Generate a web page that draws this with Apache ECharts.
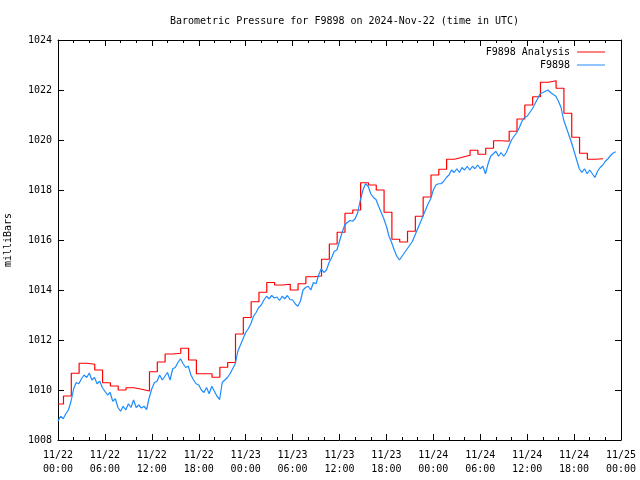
<!DOCTYPE html>
<html>
<head>
<meta charset="utf-8">
<script src="https://cdn.jsdelivr.net/npm/echarts@6/dist/echarts.min.js"></script>
<style>html,body{margin:0;padding:0;background:#fff}#c{width:640px;height:480px}</style>
</head>
<body>
<div id="c"></div>
<script>
// ---- data ----
var titleText = 'Barometric Pressure for F9898 on 2024-Nov-22 (time in UTC)';
var yAxisName = 'milliBars';
var seriesNames = ['F9898 Analysis', 'F9898'];
var xTickLabels = ['11/22\n00:00','11/22\n06:00','11/22\n12:00','11/22\n18:00',
  '11/23\n00:00','11/23\n06:00','11/23\n12:00','11/23\n18:00',
  '11/24\n00:00','11/24\n06:00','11/24\n12:00','11/24\n18:00','11/25\n00:00'];
// hours since 11/22 00:00 where each analysis step begins (last entry = end of last step)
var analysisTimes = [0,0.7,1.7,2.7,3.7,4.7,5.7,6.7,7.7,8.7,9.7,10.7,11.7,12.7,13.7,14.7,15.7,16.7,17.7,18.7,19.7,
  20.7,21.7,22.7,23.7,24.7,25.7,26.7,27.7,28.7,29.7,30.7,31.7,32.7,33.7,34.7,35.7,36.7,37.7,38.7,39.7,
  40.7,41.7,42.7,43.7,44.7,45.7,46.7,47.7,48.7,49.7,50.7,51.7,52.7,53.7,54.7,55.7,56.7,57.7,58.7,59.7,
  60.7,61.7,62.7,63.7,64.7,65.7,66.7,67.7,68.7,69.7];
var analysisValues = [1009.44,1009.76,1010.67,1011.07,1011.03,1010.8,1010.29,1010.16,1010.0,1010.09,1010.03,
  1009.96,1010.73,1011.12,1011.44,1011.47,1011.67,1011.2,1010.65,1010.65,1010.51,
  1010.91,1011.1,1012.24,1012.9,1013.53,1013.91,1014.3,1014.2,1014.23,1014.0,
  1014.25,1014.53,1014.56,1015.23,1015.84,1016.31,1017.07,1017.2,1018.29,1018.2,
  1018.0,1017.11,1016.03,1015.92,1016.35,1016.95,1017.72,1018.6,1018.83,1019.23,
  1019.31,1019.39,1019.59,1019.43,1019.67,1019.97,1019.95,1020.35,1020.84,1021.4,
  1021.73,1022.31,1022.37,1022.07,1021.07,1020.11,1019.47,1019.23,1019.25,1019.25];
// station observations, one every 20 minutes starting 11/22 00:00
var obsStartHour = 0;
var obsStepMinutes = 20;
var obsValues = [
  1008.75,1008.95,1008.85, 1009.05,1009.2,1009.55, 1010.05,1010.3,1010.25, 1010.45,1010.6,1010.5,
  1010.68,1010.4,1010.5, 1010.25,1010.35,1010.1, 1009.95,1009.8,1009.9, 1009.55,1009.65,1009.3,
  1009.15,1009.35,1009.2, 1009.45,1009.3,1009.6, 1009.3,1009.4,1009.28, 1009.35,1009.22,1009.7,
  1010.05,1010.3,1010.35, 1010.6,1010.4,1010.55, 1010.7,1010.4,1010.85, 1010.9,1011.1,1011.25,
  1011.05,1010.9,1010.95, 1010.6,1010.4,1010.25, 1010.2,1010.0,1009.9, 1010.1,1009.85,1010.15,
  1009.95,1009.75,1009.62, 1010.3,1010.4,1010.5, 1010.65,1010.85,1011.05, 1011.55,1011.8,1012.05,
  1012.3,1012.45,1012.65, 1012.95,1013.1,1013.3, 1013.4,1013.6,1013.75, 1013.65,1013.78,1013.68,
  1013.72,1013.58,1013.75, 1013.65,1013.78,1013.62, 1013.6,1013.45,1013.35, 1013.55,1014.0,1014.1,
  1014.15,1014.0,1014.3, 1014.25,1014.6,1014.85, 1014.7,1014.8,1015.1, 1015.3,1015.55,1015.6,
  1015.95,1016.3,1016.6, 1016.7,1016.78,1016.75, 1016.85,1017.1,1017.6, 1018.0,1018.25,1018.15,
  1017.85,1017.7,1017.62, 1017.35,1017.1,1016.85, 1016.55,1016.15,1015.9, 1015.6,1015.35,1015.2,
  1015.35,1015.5,1015.65, 1015.8,1015.95,1016.2, 1016.45,1016.7,1016.95, 1017.2,1017.45,1017.65,
  1018.0,1018.2,1018.25, 1018.25,1018.35,1018.5, 1018.6,1018.8,1018.7, 1018.85,1018.7,1018.9,
  1018.8,1018.95,1018.8, 1018.95,1018.85,1019.0, 1018.85,1018.95,1018.65, 1019.05,1019.35,1019.45,
  1019.55,1019.35,1019.5, 1019.35,1019.5,1019.75, 1020.0,1020.15,1020.3, 1020.5,1020.75,1020.9,
  1020.95,1021.1,1021.25, 1021.45,1021.65,1021.85, 1021.9,1021.95,1022.0, 1021.9,1021.82,1021.75,
  1021.55,1021.3,1020.8, 1020.5,1020.2,1019.9, 1019.55,1019.2,1018.85, 1018.7,1018.85,1018.65,
  1018.8,1018.65,1018.5, 1018.75,1018.9,1019.0, 1019.15,1019.25,1019.38, 1019.48,1019.53];

// ---- chart ----
var FONT = 'DejaVu Sans Mono';
var analysisData = analysisTimes.map(function (t, i) { return [t, analysisValues[i]]; });
var obsData = obsValues.map(function (v, i) { return [obsStartHour + i * obsStepMinutes / 60, v]; });

function xAxisCfg(pos, labels) {
  return {
    type: 'value', position: pos, min: 0, max: 72, interval: 6,
    axisLine: { show: true, onZero: false, lineStyle: { color: '#000', width: 1 } },
    axisTick: { show: true, inside: true, length: 6, lineStyle: { color: '#000' } },
    minorTick: { show: true, splitNumber: 3, length: 3, lineStyle: { color: '#000' } },
    splitLine: { show: false },
    axisLabel: labels ? {
      show: true, color: '#000', fontFamily: FONT, fontSize: 10, lineHeight: 14, margin: 8,
      formatter: function (v) { return xTickLabels[Math.round(v / 6)]; }
    } : { show: false }
  };
}
function yAxisCfg(pos, labels) {
  return {
    type: 'value', position: pos, min: 1008, max: 1024, interval: 2,
    name: labels ? yAxisName : '', nameLocation: 'middle', nameGap: 45, nameRotate: 90,
    nameTextStyle: { color: '#000', fontFamily: FONT, fontSize: 10 },
    axisLine: { show: true, onZero: false, lineStyle: { color: '#000', width: 1 } },
    axisTick: { show: true, inside: true, length: 6, lineStyle: { color: '#000' } },
    splitLine: { show: false },
    axisLabel: labels ? {
      show: true, color: '#000', fontFamily: FONT, fontSize: 10, margin: 6,
      formatter: function (v) { return String(v); }
    } : { show: false }
  };
}

var chart = echarts.init(document.getElementById('c'), null, { renderer: 'canvas' });
chart.setOption({
  animation: false,
  backgroundColor: '#fff',
  title: {
    text: titleText, left: 339.5, textAlign: 'center', top: 11,
    textStyle: { color: '#000', fontFamily: FONT, fontSize: 10, fontWeight: 'normal' }
  },
  legend: {
    orient: 'vertical', right: 30, top: 42, align: 'right', itemGap: 3,
    itemWidth: 28, itemHeight: 11,
    textStyle: { color: '#000', fontFamily: FONT, fontSize: 10, padding: [0, 2, 0, 0] },
    data: [
      { name: seriesNames[0], icon: 'path://M0,5 L28,5 L28,6 L0,6 Z' },
      { name: seriesNames[1], icon: 'path://M0,5 L28,5 L28,6 L0,6 Z' }
    ]
  },
  grid: { left: 58, right: 19, top: 40, bottom: 40, containLabel: false, outerBoundsMode: 'none' },
  xAxis: [xAxisCfg('bottom', true), xAxisCfg('top', false)],
  yAxis: [yAxisCfg('left', true), yAxisCfg('right', false)],
  series: [
    {
      name: seriesNames[0], type: 'line', step: 'end', data: analysisData,
      showSymbol: false, symbol: 'none', color: '#ff0000',
      lineStyle: { color: '#ff0000', width: 1.2 }, z: 2
    },
    {
      name: seriesNames[1], type: 'line', data: obsData,
      showSymbol: false, symbol: 'none', color: '#1e8cff',
      lineStyle: { color: '#1e8cff', width: 1.2 }, z: 3
    }
  ]
});
</script>
</body>
</html>
